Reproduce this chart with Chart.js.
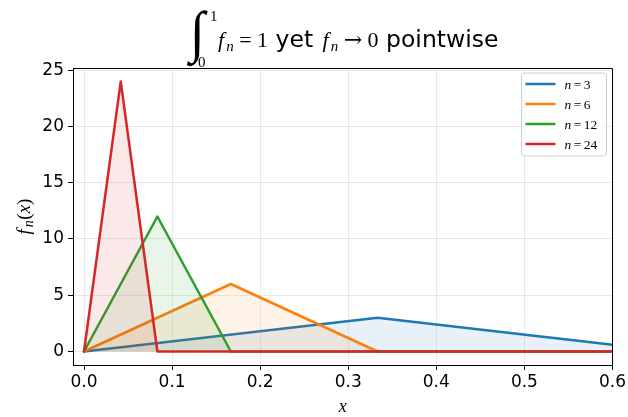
<!DOCTYPE html>
<html>
<head>
<meta charset="utf-8">
<script src="https://cdn.jsdelivr.net/npm/chart.js@4.4.1/dist/chart.umd.min.js"></script>
<style>
  html, body { margin: 0; padding: 0; background: #fff; }
  canvas { display: block; }
</style>
</head>
<body>
<canvas id="c" width="628" height="417"></canvas>
<script>
// ---- data ----
const nValues = [3, 6, 12, 24];
const seriesLabels = ['n = 3', 'n = 6', 'n = 12', 'n = 24'];
const seriesColors = ['#1f77b4', '#ff7f0e', '#2ca02c', '#d62728'];

const x3  = [0, 0.3333, 0.6];
const y3  = [0, 3, 0.6];
const x6  = [0, 0.1667, 0.3333, 0.6];
const y6  = [0, 6, 0, 0];
const x12 = [0, 0.0833, 0.1667, 0.6];
const y12 = [0, 12, 0, 0];
const x24 = [0, 0.0417, 0.0833, 0.6];
const y24 = [0, 24, 0, 0];

const xTicks = [0, 0.1, 0.2, 0.3, 0.4, 0.5, 0.6];
const yTicks = [0, 5, 10, 15, 20, 25];

const titleParts = { integral: '∫', lower: '0', upper: '1', eq: '=', one: '1', yet: 'yet', arrow: '→', zero: '0', tail: 'pointwise' };

const seriesX = [x3, x6, x12, x24];
const seriesY = [y3, y6, y12, y24];

function hexA(hex, a) {
  const r = parseInt(hex.slice(1,3),16), g = parseInt(hex.slice(3,5),16), b = parseInt(hex.slice(5,7),16);
  return `rgba(${r},${g},${b},${a})`;
}

const datasets = seriesX.map((xs, i) => ({
  label: seriesLabels[i],
  data: xs.map((x, j) => ({ x: x, y: seriesY[i][j] })),
  borderColor: seriesColors[i],
  backgroundColor: hexA(seriesColors[i], 0.1),
  borderWidth: 2.5,
  borderJoinStyle: 'round',
  borderCapStyle: 'round',
  pointRadius: 0,
  tension: 0,
  fill: 'origin',
  order: seriesX.length - 1 - i
}));

const SERIF = '"Liberation Serif", "DejaVu Serif", serif';
const SANS = '"DejaVu Sans", sans-serif';

function txt(ctx, s, font, x, y, draw) {
  ctx.font = font;
  const m = ctx.measureText(s);
  if (draw) ctx.fillText(s, x, y);
  return x + m.width;
}

function drawTitle(ctx, draw, startX) {
  const S = 22;
  const base = 47;
  const x0 = startX;
  if (draw) {
    ctx.save();
    ctx.font = '60px ' + SERIF;
    const m = ctx.measureText(titleParts.integral);
    const iw = m.actualBoundingBoxLeft + m.actualBoundingBoxRight;
    const ih = m.actualBoundingBoxAscent + m.actualBoundingBoxDescent;
    const sx = 21 / iw, sy = 57 / ih;
    ctx.translate(x0, 10);
    ctx.scale(sx, sy);
    ctx.fillText(titleParts.integral, m.actualBoundingBoxLeft, m.actualBoundingBoxAscent);
    ctx.restore();
    txt(ctx, titleParts.upper, '15px ' + SERIF, x0 + 23, 21, true);
    txt(ctx, titleParts.lower, '15px ' + SERIF, x0 + 11, 67, true);
  }
  let x = x0 + 31;
  const it = 'italic ' + S + 'px ' + SERIF;
  const rm = S + 'px ' + SERIF;
  const arrowFont = S + 'px "DejaVu Serif", serif';
  const sub = 'italic 15px ' + SERIF;
  const sans = '23.5px ' + SANS;
  x = txt(ctx, 'f', it, x, base, draw) + 2;
  x = txt(ctx, 'n', sub, x, base + 4, draw);
  x += 5.5;
  x = txt(ctx, titleParts.eq, rm, x, base, draw);
  x += 5.5;
  x = txt(ctx, titleParts.one, rm, x, base, draw);
  x = txt(ctx, ' ', sans, x, base, false);
  x = txt(ctx, titleParts.yet, sans, x, base, draw);
  x = txt(ctx, ' ', sans, x, base, false);
  x = txt(ctx, 'f', it, x + 2, base, draw) + 2;
  x = txt(ctx, 'n', sub, x, base + 4, draw);
  x += 5.5;
  x = txt(ctx, titleParts.arrow, arrowFont, x, base, draw);
  x += 5.5;
  x = txt(ctx, titleParts.zero, rm, x, base, draw);
  x = txt(ctx, ' ', sans, x, base, false);
  x = txt(ctx, titleParts.tail, sans, x, base, draw);
  return x - x0;
}

const annotations = {
  id: 'annotations',
  afterDraw(chart) {
    const ctx = chart.ctx, a = chart.chartArea;
    ctx.save();
    ctx.fillStyle = '#000';
    ctx.textBaseline = 'alphabetic';
    ctx.textAlign = 'left';
    ctx.strokeStyle = '#000';
    ctx.lineWidth = 1;
    ctx.beginPath();
    ctx.moveTo(Math.round(a.left) + 0.5, Math.round(a.top) + 0.5);
    ctx.lineTo(Math.round(a.right) + 0.5, Math.round(a.top) + 0.5);
    ctx.lineTo(Math.round(a.right) + 0.5, Math.round(a.bottom) + 0.5);
    ctx.stroke();

    const cx = (a.left + a.right) / 2;
    const w = drawTitle(ctx, false, 0);
    drawTitle(ctx, true, cx - w / 2);

    ctx.font = 'italic 18px ' + SERIF;
    ctx.textAlign = 'center';
    ctx.fillText('x', cx, 412);
    ctx.textAlign = 'left';

    ctx.save();
    ctx.translate(30, (a.top + a.bottom) / 2);
    ctx.rotate(-Math.PI / 2);
    const parts = [['f', 'italic 19px ' + SERIF, 0, 2], ['n', 'italic 14px ' + SERIF, 3, 0.5], ['(', '19px ' + SERIF, 0, 0], ['x', 'italic 19px ' + SERIF, 0, 0], [')', '19px ' + SERIF, 0, 0]];
    let tw = 0;
    parts.forEach(p => { ctx.font = p[1]; tw += ctx.measureText(p[0]).width + p[3]; });
    let px = -tw / 2;
    parts.forEach(p => { ctx.font = p[1]; ctx.fillText(p[0], px, p[2]); px += ctx.measureText(p[0]).width + p[3]; });
    ctx.restore();

    const bw = 85, bh = 83;
    const bx = a.right - 6 - bw, by = a.top + 5;
    const r = 3;
    ctx.beginPath();
    ctx.moveTo(bx + r, by);
    ctx.arcTo(bx + bw, by, bx + bw, by + bh, r);
    ctx.arcTo(bx + bw, by + bh, bx, by + bh, r);
    ctx.arcTo(bx, by + bh, bx, by, r);
    ctx.arcTo(bx, by, bx + bw, by, r);
    ctx.closePath();
    ctx.fillStyle = 'rgba(255,255,255,0.8)';
    ctx.fill();
    ctx.strokeStyle = '#cccccc';
    ctx.lineWidth = 1;
    ctx.stroke();
    chart.data.datasets.forEach((ds, i) => {
      const y = by + 11 + i * 20;
      ctx.strokeStyle = ds.borderColor;
      ctx.lineWidth = 2.5;
      ctx.beginPath();
      ctx.moveTo(bx + 4, y);
      ctx.lineTo(bx + 34, y);
      ctx.stroke();
      ctx.fillStyle = '#000';
      const yb = y + 4.5;
      let tx = bx + 43;
      tx = txt(ctx, 'n', 'italic 13.5px ' + SERIF, tx, yb, true) + 2.5;
      tx = txt(ctx, '=', '13.5px ' + SERIF, tx, yb, true) + 2.5;
      txt(ctx, String(nValues[i]), '13.5px ' + SERIF, tx, yb, true);
    });
    ctx.restore();
  }
};

const gridCfg = {
  color: 'rgba(176,176,176,0.35)',
  lineWidth: 0.8,
  tickColor: '#000',
  tickLength: 5,
  tickWidth: 1
};

new Chart(document.getElementById('c'), {
  type: 'line',
  data: { datasets },
  options: {
    responsive: false,
    animation: false,
    layout: { padding: { left: 0, right: 14, top: 68, bottom: 0 } },
    plugins: { legend: { display: false }, tooltip: { enabled: false }, title: { display: false } },
    scales: {
      x: {
        type: 'linear',
        min: -0.0125,
        max: 0.6,
        afterBuildTicks: s => { s.ticks = xTicks.map(v => ({ value: v })); },
        afterFit: s => { s.height = 52; },
        ticks: {
          callback: v => Number(v).toFixed(1),
          color: '#000',
          font: { family: 'DejaVu Sans', size: 17 },
          padding: 2,
          maxRotation: 0,
          autoSkip: false
        },
        grid: gridCfg,
        border: { display: true, color: '#000', width: 1 }
      },
      y: {
        type: 'linear',
        min: -1.2,
        max: 25.2,
        afterBuildTicks: s => { s.ticks = yTicks.map(v => ({ value: v })); },
        afterFit: s => { s.width = 73; },
        ticks: {
          color: '#000',
          font: { family: 'DejaVu Sans', size: 17 },
          padding: 4,
          autoSkip: false
        },
        grid: gridCfg,
        border: { display: true, color: '#000', width: 1 }
      }
    }
  },
  plugins: [annotations]
});
</script>
</body>
</html>
